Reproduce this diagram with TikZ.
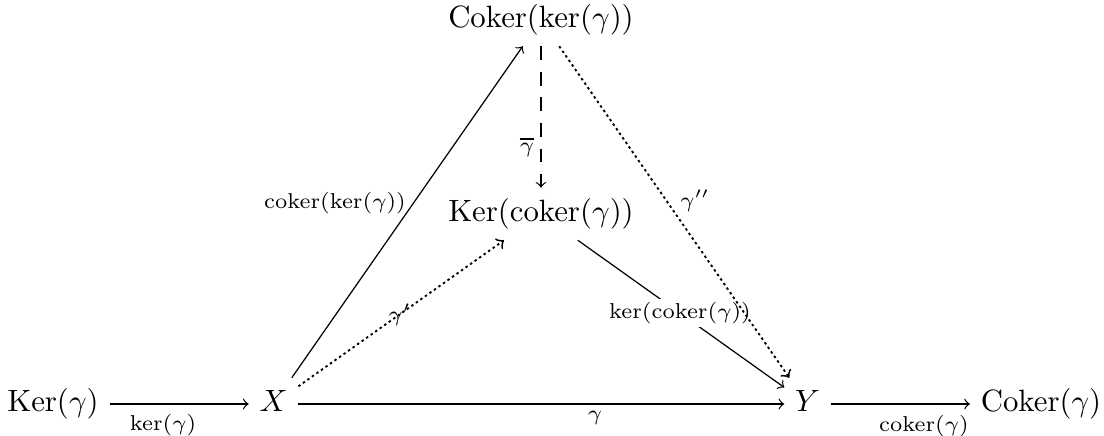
\documentclass[tikz,border=0pt]{standalone}
\begin{document}
\begin{tikzpicture}[x=0.3247pt,y=-0.3247pt,
  obj/.style={inner sep=3.333pt, text height=7.5pt, text depth=2.5pt},
  lab/.style={font=\scriptsize, inner sep=0pt},
  arr/.style={->, line width=0.4pt},
  dotarr/.style={arr, dash pattern=on 0.8pt off 1pt, line width=0.6pt},
  dasharr/.style={arr, dash pattern=on 4.5pt off 3.8pt}]
\useasboundingbox (0,0) rectangle (1104,436);
\node[obj] (K) at (53,404) {$\mathrm{Ker}(\gamma)$};
\node[obj] (X) at (273.5,404) {$X$};
\node[obj] (Y) at (807.5,404) {$Y$};
\node[obj] (CK) at (1041,404) {$\mathrm{Coker}(\gamma)$};
\node[obj] (A) at (541,20) {$\mathrm{Coker}(\ker(\gamma))$};
\node[obj] (B) at (541,214) {$\mathrm{Ker}(\mathrm{coker}(\gamma))$};
\draw[arr] (K) -- (X);
\draw[arr] (X) -- (Y);
\draw[arr] (Y) -- (CK);
\draw[arr] (X) -- (A);
\draw[dotarr] (X) -- (B);
\draw[dasharr] (A) -- (B);
\draw[arr] (B) -- (Y);
\node[lab, fill=white, inner sep=1pt] (l8) at (680,313) {$\ker(\mathrm{coker}(\gamma))$};
\draw[dotarr] (A) -- (Y);
\node[lab] (l1) at (163,425) {$\ker(\gamma)$};
\node[lab] (l2) at (595,418) {$\gamma$};
\node[lab] (l3) at (924,426) {$\mathrm{coker}(\gamma)$};
\node[lab] (l4) at (335,203) {$\mathrm{coker}(\ker(\gamma))$};
\node[lab] (l5) at (400,315) {$\gamma'$};
\node[lab] (l6) at (527,147) {$\overline{\gamma}$};
\node[lab] (l7) at (695,201) {$\gamma''$};
\end{tikzpicture}
\end{document}
